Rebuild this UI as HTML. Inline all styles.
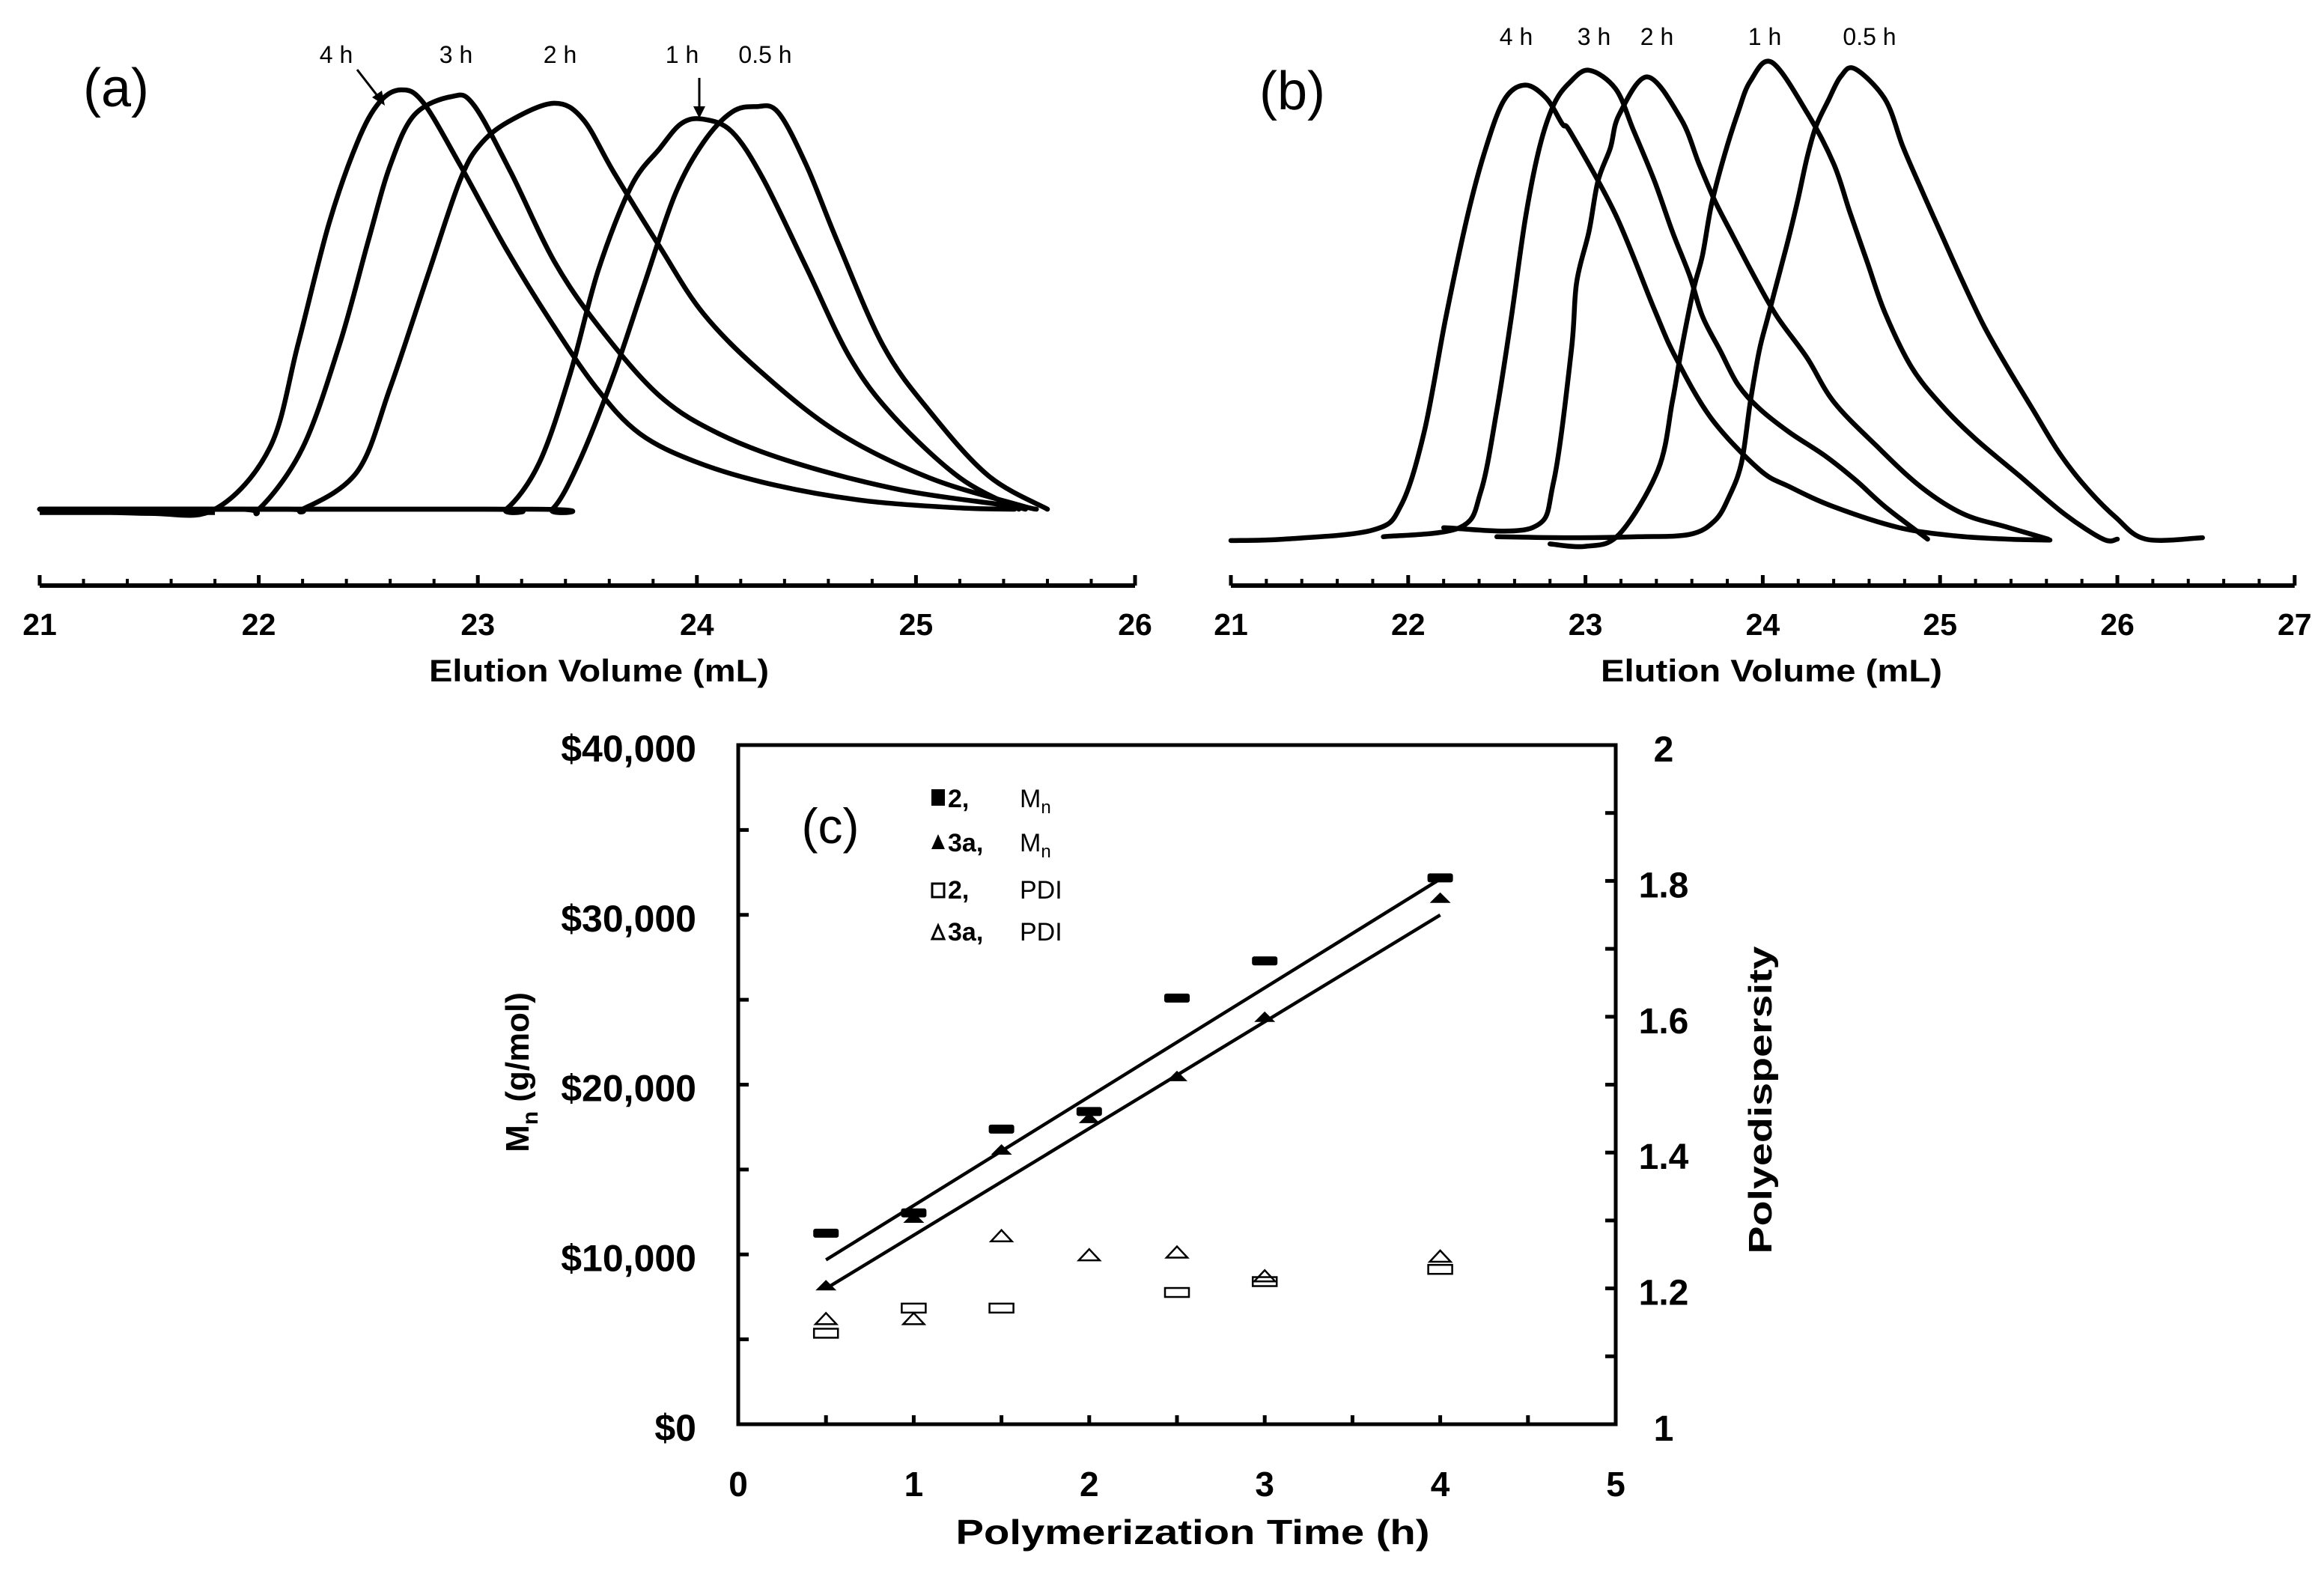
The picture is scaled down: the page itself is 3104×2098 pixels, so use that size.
<!DOCTYPE html>
<html><head><meta charset="utf-8"><style>
html,body{margin:0;padding:0;background:#fff;}
svg{display:block;}
text{font-family:"Liberation Sans",Arial,sans-serif;fill:#000;}
</style></head><body>
<svg id="fig" width="3104" height="2098" viewBox="0 0 3104 2098" xmlns="http://www.w3.org/2000/svg">
<rect width="3104" height="2098" fill="#fff"/>
<g id="pa">
  <text x="155" y="142" font-size="72" text-anchor="middle">(a)</text>
  <text x="449" y="84" font-size="32" text-anchor="middle">4 h</text>
  <text x="609" y="84" font-size="32" text-anchor="middle">3 h</text>
  <text x="748" y="84" font-size="32" text-anchor="middle">2 h</text>
  <text x="911" y="84" font-size="32" text-anchor="middle">1 h</text>
  <text x="1022" y="84" font-size="32" text-anchor="middle">0.5 h</text>
  <line x1="477" y1="93" x2="508" y2="133" stroke="#000" stroke-width="3"/>
  <polygon points="514,141 497,130 510,121" fill="#000"/>
  <line x1="934" y1="104" x2="934" y2="148" stroke="#000" stroke-width="3"/>
  <polygon points="934,158 926,142 942,142" fill="#000"/>
  <text x="800" y="910" font-size="42" font-weight="bold" text-anchor="middle" textLength="454" lengthAdjust="spacingAndGlyphs">Elution Volume (mL)</text>
</g>
<g id="pb">
  <text x="1726" y="146" font-size="72" text-anchor="middle">(b)</text>
  <text x="2025" y="60" font-size="32" text-anchor="middle">4 h</text>
  <text x="2129" y="60" font-size="32" text-anchor="middle">3 h</text>
  <text x="2213" y="60" font-size="32" text-anchor="middle">2 h</text>
  <text x="2357" y="60" font-size="32" text-anchor="middle">1 h</text>
  <text x="2497" y="60" font-size="32" text-anchor="middle">0.5 h</text>
  <text x="2366" y="910" font-size="42" font-weight="bold" text-anchor="middle" textLength="456" lengthAdjust="spacingAndGlyphs">Elution Volume (mL)</text>
</g>
<g id="pc">
  <rect x="986" y="995" width="1172" height="907" fill="none" stroke="#000" stroke-width="5"/>
  <text x="1109" y="1126" font-size="66" text-anchor="middle">(c)</text>
  <text x="1593" y="2062" font-size="46" font-weight="bold" text-anchor="middle" textLength="633" lengthAdjust="spacingAndGlyphs">Polymerization Time (h)</text>
  <text transform="translate(706,1432) rotate(-90)" font-size="44" font-weight="bold" text-anchor="middle">M<tspan font-size="30" dy="12">n</tspan><tspan dy="-12"> (g/mol)</tspan></text>
  <text transform="translate(2366,1469) rotate(-90)" font-size="44" font-weight="bold" text-anchor="middle" textLength="411" lengthAdjust="spacingAndGlyphs">Polyedispersity</text>
  <g>
    <g>
      <rect x="1244" y="1054" width="18" height="22" fill="#000"/>
      <text x="1266" y="1078" font-size="34" font-weight="bold">2,</text>
      <text x="1362" y="1078" font-size="34">M<tspan font-size="24" dy="8">n</tspan></text>
    </g>
    <g>
      <polygon points="1244,1134 1262,1134 1253,1114" fill="#000"/>
      <text x="1266" y="1137" font-size="34" font-weight="bold">3a,</text>
      <text x="1362" y="1137" font-size="34">M<tspan font-size="24" dy="8">n</tspan></text>
    </g>
    <g>
      <rect x="1245" y="1180" width="16" height="18" fill="none" stroke="#000" stroke-width="3"/>
      <text x="1266" y="1200" font-size="34" font-weight="bold">2,</text>
      <text x="1362" y="1200" font-size="34">PDI</text>
    </g>
    <g>
      <polygon points="1245,1254 1261,1254 1253,1236" fill="none" stroke="#000" stroke-width="3"/>
      <text x="1266" y="1256" font-size="34" font-weight="bold">3a,</text>
      <text x="1362" y="1256" font-size="34">PDI</text>
    </g>
  </g>
</g>
</svg>
<script>
// ---------- Panel (a) data: elution volume (mL) vs detector intensity ----------
const a4hVol=[21.0,21.5,21.8,22.05,22.18,22.32,22.45,22.55,22.65,22.75,22.92,23.13,23.33,23.54,23.74,24.01,24.36,24.77,25.2,25.45];
const a4hInt=[0,-1,0,14.6,39.5,68,87.5,97,100,97,82,62,45,29,18,11,5.7,2,0.3,0];
const a3hVol=[21.0,21.9,22.0,22.2,22.37,22.5,22.6,22.71,22.88,22.98,23.15,23.35,23.56,23.83,24.1,24.45,24.93,25.4,25.5];
const a3hInt=[0,0,0,14.6,39.5,64,82,94,98.4,96.5,80.4,59,43,27,18,11,4.6,1,0];
const a2hVol=[21.0,22.1,22.2,22.45,22.6,22.77,22.92,23.02,23.16,23.35,23.48,23.62,23.83,24.03,24.3,24.65,25.06,25.47,25.55];
const a2hInt=[0,0,0,9,29,55.5,78.6,87.5,93,96.8,93,80.4,62.6,46.6,32.4,18.1,7.5,1,0];
const a1hVol=[21.0,23.03,23.13,23.28,23.42,23.55,23.7,23.83,23.93,24.03,24.16,24.3,24.5,24.7,24.9,25.2,25.47];
const a1hInt=[0,0,0,11,32,57,77,86,92,93,90,79,57.6,36,22,7.5,0];
const a05hVol=[21.0,23.24,23.34,23.46,23.62,23.76,23.9,24.03,24.16,24.27,24.37,24.5,24.64,24.85,25.06,25.33,25.6];
const a05hInt=[0,0,0,11,32,53.7,75,87.5,94.7,96,94.7,82,64,39,23.5,8,0];
const aTickLabels=["21","22","23","24","25","26"];
// ---------- Panel (b) data ----------
const b4hVol=[21.0,21.3,21.8,21.96,22.09,22.21,22.33,22.43,22.54,22.66,22.78,22.87,22.92,23.17,23.39,23.51,23.71,23.98,24.15,24.4,24.76,25.08,25.38,25.62];
const b4hInt=[-0.3,0,1.9,7.1,22.4,46,67,81,92,95.2,92.4,87,85,68,48,38,25.3,14.6,11,6.8,2.5,0.7,0,-0.2];
const b3hVol=[21.86,22.29,22.41,22.5,22.58,22.66,22.74,22.82,22.91,23.02,23.17,23.27,23.39,23.49,23.59,23.66,23.76,23.86,23.98,24.15,24.35,24.52,24.69,24.93];
const b3hInt=[0.5,2.4,10,27,46,67,82,91,95.7,98.3,94.4,85.8,75,64.5,55,46.7,39.5,32.4,27.4,22.4,17.5,12.5,6.8,0];
const b2hVol=[22.2,22.7,22.82,22.92,22.95,23.02,23.07,23.14,23.19,23.35,23.54,23.64,23.73,23.83,23.95,24.08,24.25,24.4,24.64,24.89,25.13,25.38,25.61];
const b2hInt=[2.4,2.4,12,39.5,53.8,64.5,75,82,89,96.9,88,78.7,70.9,63.7,55.2,46.7,38,28.8,19.6,11,5.3,2.5,0];
const b1hVol=[22.8,23.0,23.19,23.41,23.49,23.54,23.61,23.66,23.71,23.78,23.86,23.93,24.05,24.25,24.4,24.49,24.59,24.69,24.84,25.01,25.2,25.45,25.7,25.92,26.0];
const b1hInt=[-1,-1.5,1,14.6,28.8,39.5,52.4,59.5,70,80,89.4,96,100,89.4,78.7,68.7,58,47.4,36,28,21,13.2,5.3,0,0];
const b05hVol=[22.5,22.9,23.3,23.59,23.73,23.81,23.88,23.93,23.98,24.03,24.1,24.15,24.2,24.25,24.3,24.37,24.44,24.52,24.69,24.79,24.89,25.01,25.13,25.25,25.38,25.52,25.67,25.82,25.99,26.16,26.48];
const b05hInt=[0.5,0.3,0.5,1,3.9,8.9,16,28.8,39.5,46.7,56.6,63.7,71.5,80,86.5,92,97,98.6,92.2,82.3,73.7,63.7,53.8,44.5,36,27.4,18.2,11,4.6,0,0.3];
const bTickLabels=["21","22","23","24","25","26","27"];
// ---------- Panel (c) data ----------
const cTime=[0.5,1,1.5,2,2.5,3,4];
const cMn2=[11250,12450,17380,18420,25100,27290,32180];
const cMn3a=[8150,12130,16140,18000,20470,23960,30970];
const cPdi2Time=[0.5,1,1.5,2.5,3,4];
const cPdi2=[1.134,1.171,1.171,1.194,1.21,1.228];
const cPdi3a=[1.155,1.155,1.277,1.249,1.253,1.218,1.247];
const cFitTime=[0.5,4];
const cFit2=[9680,32110];
const cFit3a=[7990,29990];
const cXTicks=["0","1","2","3","4","5"];
const cYLeftTicks=["$0","$10,000","$20,000","$30,000","$40,000"];
const cYRightTicks=["1","1.2","1.4","1.6","1.8","2"];

const NS="http://www.w3.org/2000/svg";
function mk(tag,attrs,parent){const e=document.createElementNS(NS,tag);for(const k in attrs)e.setAttribute(k,attrs[k]);parent.appendChild(e);return e;}

// axis functions
const xA=v=>53+(v-21)*292.6;
const yA=i=>680-i*5.6;
const xB=v=>1644+(v-21)*236.8;
const yB=i=>720-i*6.37;
const xC=t=>986+t*234.4;
const yCL=m=>1902-m/40000*907;
const yCR=p=>1902-(p-1)*907;

const pa=document.getElementById('pa');
const pb=document.getElementById('pb');
const pc=document.getElementById('pc');

function drawAxis(parent,xf,lo,hi,labels,axisY,name){
  const g=mk('g',{},parent);
  
  
  const ln=mk('line',{x1:xf(lo),x2:xf(hi),y1:axisY,y2:axisY,stroke:'#000','stroke-width':6},g);
  
  
  for(let k=0;k<=(hi-lo)*5;k++){
    const v=lo+k*0.2;const major=k%5===0;
    const t=mk('line',{x1:xf(v),x2:xf(v),y1:axisY,y2:axisY-(major?14:9),stroke:'#000','stroke-width':major?5:4},g);
    
    
  }
  labels.forEach((s,i)=>{
    const t=mk('text',{x:xf(lo+i),y:axisY+66,'font-size':41,'font-weight':'bold','text-anchor':'middle'},g);
    t.textContent=s;
    
    
  });
}
drawAxis(pa,xA,21,26,aTickLabels,782,'x-axis-a');
drawAxis(pb,xB,21,27,bTickLabels,782,'x-axis-b');

function curve(parent,xf,yf,vol,inten,name){
  const P=vol.map((v,i)=>[xf(v),yf(inten[i])]);
  let d='M'+P[0][0].toFixed(1)+','+P[0][1].toFixed(1);
  for(let i=0;i<P.length-1;i++){
    const p0=P[Math.max(0,i-1)],p1=P[i],p2=P[i+1],p3=P[Math.min(P.length-1,i+2)];
    const c1x=p1[0]+(p2[0]-p0[0])/6,c1y=p1[1]+(p2[1]-p0[1])/6;
    const c2x=p2[0]-(p3[0]-p1[0])/6,c2y=p2[1]-(p3[1]-p1[1])/6;
    d+=' C'+c1x.toFixed(1)+','+c1y.toFixed(1)+' '+c2x.toFixed(1)+','+c2y.toFixed(1)+' '+p2[0].toFixed(1)+','+p2[1].toFixed(1);
  }
  const p=mk('path',{d:d,fill:'none',stroke:'#000','stroke-width':6.5,'stroke-linejoin':'round','stroke-linecap':'round'},parent);
  
  
}
const bl=mk('line',{x1:xA(21),x2:xA(21.8),y1:yA(-0.5),y2:yA(-0.5),stroke:'#000','stroke-width':10},pa);


curve(pa,xA,yA,a4hVol,a4hInt,'trace-a-4h');
curve(pa,xA,yA,a3hVol,a3hInt,'trace-a-3h');
curve(pa,xA,yA,a2hVol,a2hInt,'trace-a-2h');
curve(pa,xA,yA,a1hVol,a1hInt,'trace-a-1h');
curve(pa,xA,yA,a05hVol,a05hInt,'trace-a-05h');
curve(pb,xB,yB,b4hVol,b4hInt,'trace-b-4h');
curve(pb,xB,yB,b3hVol,b3hInt,'trace-b-3h');
curve(pb,xB,yB,b2hVol,b2hInt,'trace-b-2h');
curve(pb,xB,yB,b1hVol,b1hInt,'trace-b-1h');
curve(pb,xB,yB,b05hVol,b05hInt,'trace-b-05h');

// Panel c axes
cXTicks.forEach((s,i)=>{
  const t=mk('text',{x:xC(i),y:1998,'font-size':46,'font-weight':'bold','text-anchor':'middle'},pc);
  t.textContent=s;
  
  
});
for(let k=1;k<10;k++){
  const tk=mk('line',{x1:xC(k*0.5),x2:xC(k*0.5),y1:1902,y2:1890,stroke:'#000','stroke-width':5},pc);
  
  
}
cYLeftTicks.forEach((s,i)=>{
  const t=mk('text',{x:930,y:yCL(i*10000)+22,'font-size':50,'font-weight':'bold','text-anchor':'end'},pc);
  t.textContent=s;
  
  
});
for(let k=1;k<8;k++){
  const tk=mk('line',{x1:986,x2:1000,y1:yCL(k*5000),y2:yCL(k*5000),stroke:'#000','stroke-width':5},pc);
  
  
}
cYRightTicks.forEach((s,i)=>{
  const t=mk('text',{x:2222,y:yCR(1+i*0.2)+22,'font-size':48,'font-weight':'bold','text-anchor':'middle'},pc);
  t.textContent=s;
  
  
});
for(let k=1;k<10;k++){
  const tk=mk('line',{x1:2144,x2:2158,y1:yCR(1+k*0.1),y2:yCR(1+k*0.1),stroke:'#000','stroke-width':5},pc);
  
  
}
const f1=mk('line',{x1:xC(cFitTime[0]),y1:yCL(cFit2[0]),x2:xC(cFitTime[1]),y2:yCL(cFit2[1]),stroke:'#000','stroke-width':4.5},pc);


const f2=mk('line',{x1:xC(cFitTime[0]),y1:yCL(cFit3a[0]),x2:xC(cFitTime[1]),y2:yCL(cFit3a[1]),stroke:'#000','stroke-width':4.5},pc);


cTime.forEach((t,i)=>{
  const x=xC(t),y=yCL(cMn2[i]);
  const r=mk('rect',{x:x-17,y:y-6,width:34,height:12,rx:3,fill:'#000'},pc);
  
  
});
cTime.forEach((t,i)=>{
  const x=xC(t),y=yCL(cMn3a[i]);
  const p=mk('polygon',{points:`${x-14},${y+6} ${x+14},${y+6} ${x},${y-8}`,fill:'#000'},pc);
  
  
});
cPdi2Time.forEach((t,i)=>{
  const x=xC(t),y=yCR(cPdi2[i]);
  const r=mk('rect',{x:x-16,y:y-6,width:32,height:12,fill:'none',stroke:'#000','stroke-width':2.5},pc);
  
  
});
cTime.forEach((t,i)=>{
  const x=xC(t),y=yCR(cPdi3a[i]);
  const p=mk('polygon',{points:`${x-14},${y+7} ${x+14},${y+7} ${x},${y-8}`,fill:'none',stroke:'#000','stroke-width':2.5},pc);
  
  
});
</script>
</body></html>
